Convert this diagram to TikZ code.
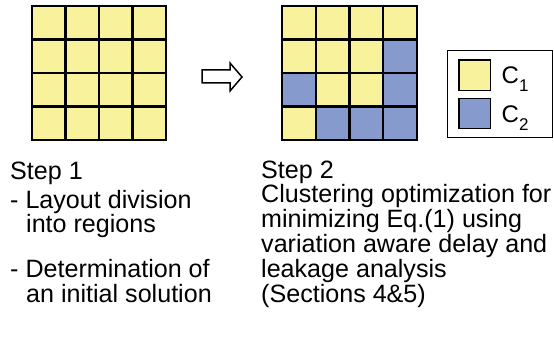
\documentclass[tikz,border=0pt]{standalone}
\usepackage{fontspec}
\setmainfont{Liberation Sans}
\definecolor{cyel}{RGB}{247,242,155}
\definecolor{cblu}{RGB}{134,154,205}
\begin{document}
\begin{tikzpicture}[x=1pt,y=-1pt,
  txt/.style={anchor=base west,inner sep=0pt,font=\fontsize{25.1}{25.1}\selectfont},
  leg/.style={anchor=base west,inner sep=0pt,font=\fontsize{24}{24}\selectfont},
  gridline/.style={line width=2.3pt,line cap=rect},
  legsq/.style={draw,line width=1.8pt}]
\useasboundingbox (0,0) rectangle (554,339);
% grid 1
\fill[cyel] (32,6) rectangle (166,140);
\foreach \i in {0,...,4}{
  \draw[gridline] ({32+33.5*\i},6) -- ({32+33.5*\i},140);
  \draw[gridline] (32,{6+33.5*\i}) -- (166,{6+33.5*\i});
}
% arrow
\draw[line width=1.5pt,fill=white,line join=miter] (202,70) -- (230,70) -- (230,63) -- (242,77) -- (230,91) -- (230,83) -- (202,83) -- cycle;
% grid 2
\def\gx{282}\def\gy{6}\def\gs{33.75}\def\gt{33.5}
\fill[cyel] (282,6) rectangle (417,140);
\foreach \c/\r in {3/1,0/2,3/2,1/3,2/3,3/3}{
  \fill[cblu] ({\gx+\gs*\c},{\gy+\gt*\r}) rectangle ({\gx+\gs*(\c+1)},{\gy+\gt*(\r+1)});
}
\foreach \i in {0,...,4}{
  \draw[gridline] ({282+33.75*\i},6) -- ({282+33.75*\i},140);
  \draw[gridline] (282,{6+33.5*\i}) -- (417,{6+33.5*\i});
}
% legend
\draw[line width=1pt] (447,51) rectangle (552,138);
\draw[legsq,fill=cyel] (459,60) rectangle (490.5,90.5);
\draw[legsq,fill=cblu] (459,98.5) rectangle (490.5,128.5);
\node[leg] (c1) at (501.5,84) {C\raisebox{-8pt}{\fontsize{17}{17}\selectfont 1}};
\node[leg] (c2) at (501.5,122.5) {C\raisebox{-8pt}{\fontsize{17}{17}\selectfont 2}};
% step 1 text
\node[txt] (s1) at (10,180) {Step 1};
\node[txt] (s1a) at (10,208) {- Layout division};
\node[txt] (s1b) at (26,233) {into regions};
\node[txt] (s1c) at (10,277) {- Determination of};
\node[txt] (s1d) at (26,302) {an initial solution};
% step 2 text
\node[txt] (s2) at (261,179) {Step 2};
\node[txt] (s2a) at (261,203) {Clustering optimization for};
\node[txt] (s2b) at (261,227.5) {minimizing Eq.(1) using};
\node[txt] (s2c) at (261,252.5) {variation aware delay and};
\node[txt] (s2d) at (261,277) {leakage analysis};
\node[txt] (s2e) at (261,302) {(Sections 4\&5)};
\end{tikzpicture}
\end{document}
